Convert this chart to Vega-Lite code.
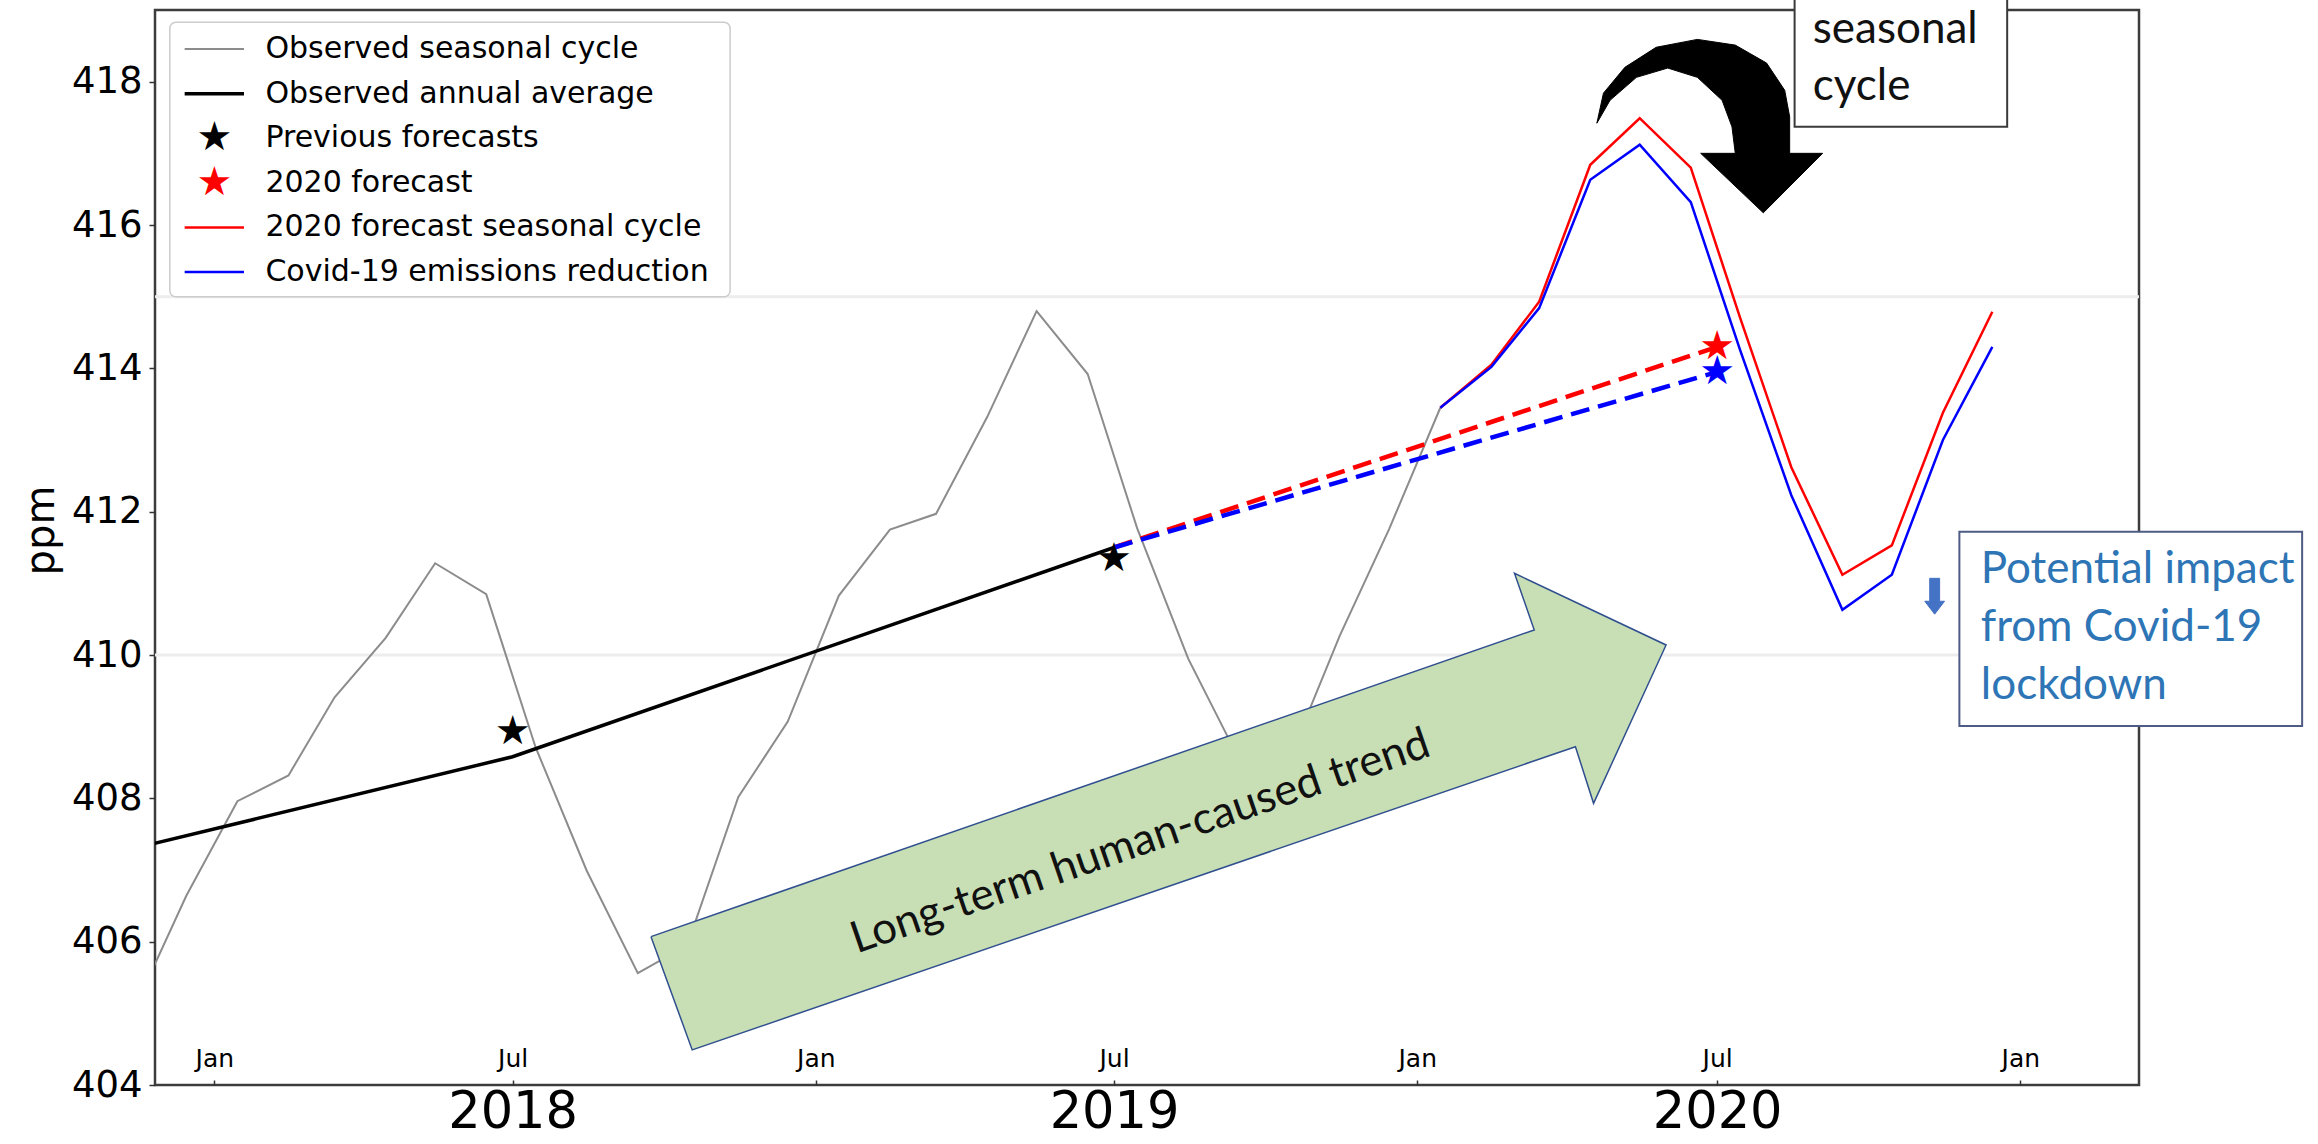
{
  "$schema": "https://vega.github.io/schema/vega-lite/v6.json",
  "width": 1984,
  "height": 1075,
  "autosize": {"type": "none"},
  "padding": {"left": 155, "top": 10, "right": 179, "bottom": 59},
  "background": "white",
  "config": {
    "view": {"stroke": "#3c3c3c", "strokeWidth": 2.5},
    "font": "DejaVu Sans",
    "axis": {"labelColor": "#000000", "titleColor": "#000000", "grid": false}
  },
  "datasets": {
    "faint": [{"value": 410}, {"value": 415}],
    "lines": [
      {"kind": "obs", "date": "2017-11-15", "value": 405.14},
      {"kind": "obs", "date": "2017-12-15", "value": 406.64},
      {"kind": "obs", "date": "2018-01-15", "value": 407.96},
      {"kind": "obs", "date": "2018-02-15", "value": 408.32},
      {"kind": "obs", "date": "2018-03-15", "value": 409.41},
      {"kind": "obs", "date": "2018-04-15", "value": 410.24},
      {"kind": "obs", "date": "2018-05-15", "value": 411.28},
      {"kind": "obs", "date": "2018-06-15", "value": 410.85},
      {"kind": "obs", "date": "2018-07-15", "value": 408.71},
      {"kind": "obs", "date": "2018-08-15", "value": 406.99},
      {"kind": "obs", "date": "2018-09-15", "value": 405.56},
      {"kind": "obs", "date": "2018-10-15", "value": 405.95},
      {"kind": "obs", "date": "2018-11-15", "value": 408.02},
      {"kind": "obs", "date": "2018-12-15", "value": 409.07},
      {"kind": "obs", "date": "2019-01-15", "value": 410.83},
      {"kind": "obs", "date": "2019-02-15", "value": 411.75},
      {"kind": "obs", "date": "2019-03-15", "value": 411.97},
      {"kind": "obs", "date": "2019-04-15", "value": 413.32},
      {"kind": "obs", "date": "2019-05-15", "value": 414.80},
      {"kind": "obs", "date": "2019-06-15", "value": 413.92},
      {"kind": "obs", "date": "2019-07-15", "value": 411.77},
      {"kind": "obs", "date": "2019-08-15", "value": 409.95},
      {"kind": "obs", "date": "2019-09-15", "value": 408.54},
      {"kind": "obs", "date": "2019-10-15", "value": 408.53},
      {"kind": "obs", "date": "2019-11-15", "value": 410.27},
      {"kind": "obs", "date": "2019-12-15", "value": 411.76},
      {"kind": "obs", "date": "2020-01-15", "value": 413.45},
      {"kind": "annual", "date": "2017-07-01", "value": 406.55},
      {"kind": "annual", "date": "2018-07-01", "value": 408.58},
      {"kind": "annual", "date": "2019-07-01", "value": 411.50},
      {"kind": "projred", "date": "2019-07-01", "value": 411.50},
      {"kind": "projred", "date": "2020-07-01", "value": 414.30},
      {"kind": "projblue", "date": "2019-07-01", "value": 411.50},
      {"kind": "projblue", "date": "2020-07-01", "value": 413.95},
      {"kind": "seasonred", "date": "2020-01-15", "value": 413.45},
      {"kind": "seasonred", "date": "2020-02-15", "value": 414.05},
      {"kind": "seasonred", "date": "2020-03-15", "value": 414.93},
      {"kind": "seasonred", "date": "2020-04-15", "value": 416.84},
      {"kind": "seasonred", "date": "2020-05-15", "value": 417.49},
      {"kind": "seasonred", "date": "2020-06-15", "value": 416.80},
      {"kind": "seasonred", "date": "2020-07-15", "value": 414.70},
      {"kind": "seasonred", "date": "2020-08-15", "value": 412.62},
      {"kind": "seasonred", "date": "2020-09-15", "value": 411.12},
      {"kind": "seasonred", "date": "2020-10-15", "value": 411.53},
      {"kind": "seasonred", "date": "2020-11-15", "value": 413.38},
      {"kind": "seasonred", "date": "2020-12-15", "value": 414.79},
      {"kind": "seasonblue", "date": "2020-01-15", "value": 413.45},
      {"kind": "seasonblue", "date": "2020-02-15", "value": 414.02},
      {"kind": "seasonblue", "date": "2020-03-15", "value": 414.84},
      {"kind": "seasonblue", "date": "2020-04-15", "value": 416.63},
      {"kind": "seasonblue", "date": "2020-05-15", "value": 417.12},
      {"kind": "seasonblue", "date": "2020-06-15", "value": 416.32},
      {"kind": "seasonblue", "date": "2020-07-15", "value": 414.25},
      {"kind": "seasonblue", "date": "2020-08-15", "value": 412.23},
      {"kind": "seasonblue", "date": "2020-09-15", "value": 410.63},
      {"kind": "seasonblue", "date": "2020-10-15", "value": 411.12},
      {"kind": "seasonblue", "date": "2020-11-15", "value": 413.00},
      {"kind": "seasonblue", "date": "2020-12-15", "value": 414.30},
      {"kind": "starblack", "date": "2018-07-01", "value": 408.93},
      {"kind": "starblack", "date": "2019-07-01", "value": 411.34},
      {"kind": "starred", "date": "2020-07-01", "value": 414.30},
      {"kind": "starblue", "date": "2020-07-01", "value": 413.95}
    ],
    "legend": [
      {"row": 0, "entry": "line", "label": "Observed seasonal cycle", "x1": "2017-12-14", "x2": "2018-01-19", "xs": "2018-01-01", "xl": "2018-02-01", "value": 418.455},
      {"row": 1, "entry": "line", "label": "Observed annual average", "x1": "2017-12-14", "x2": "2018-01-19", "xs": "2018-01-01", "xl": "2018-02-01", "value": 417.833},
      {"row": 2, "entry": "star", "label": "Previous forecasts", "x1": "2017-12-14", "x2": "2018-01-19", "xs": "2018-01-01", "xl": "2018-02-01", "value": 417.211},
      {"row": 3, "entry": "star", "label": "2020 forecast", "x1": "2017-12-14", "x2": "2018-01-19", "xs": "2018-01-01", "xl": "2018-02-01", "value": 416.588},
      {"row": 4, "entry": "line", "label": "2020 forecast seasonal cycle", "x1": "2017-12-14", "x2": "2018-01-19", "xs": "2018-01-01", "xl": "2018-02-01", "value": 415.966},
      {"row": 5, "entry": "line", "label": "Covid-19 emissions reduction", "x1": "2017-12-14", "x2": "2018-01-19", "xs": "2018-01-01", "xl": "2018-02-01", "value": 415.344}
    ],
    "shapes": [
      {"shape": "trend", "i": 0, "date": "2018-09-23", "value": 406.07},
      {"shape": "trend", "i": 1, "date": "2020-03-12", "value": 410.35},
      {"shape": "trend", "i": 2, "date": "2020-02-29", "value": 411.14},
      {"shape": "trend", "i": 3, "date": "2020-05-31", "value": 410.14},
      {"shape": "trend", "i": 4, "date": "2020-04-17", "value": 407.93},
      {"shape": "trend", "i": 5, "date": "2020-04-06", "value": 408.72},
      {"shape": "trend", "i": 6, "date": "2018-10-18", "value": 404.49},
      {"shape": "trend", "i": 7, "date": "2018-09-23", "value": 406.07},
      {"shape": "curved", "i": 0, "date": "2020-04-19", "value": 417.42},
      {"shape": "curved", "i": 1, "date": "2020-04-23", "value": 417.84},
      {"shape": "curved", "i": 2, "date": "2020-05-06", "value": 418.20},
      {"shape": "curved", "i": 3, "date": "2020-05-25", "value": 418.48},
      {"shape": "curved", "i": 4, "date": "2020-06-19", "value": 418.59},
      {"shape": "curved", "i": 5, "date": "2020-07-12", "value": 418.51},
      {"shape": "curved", "i": 6, "date": "2020-07-31", "value": 418.26},
      {"shape": "curved", "i": 7, "date": "2020-08-11", "value": 417.88},
      {"shape": "curved", "i": 8, "date": "2020-08-14", "value": 417.51},
      {"shape": "curved", "i": 9, "date": "2020-08-14", "value": 417.00},
      {"shape": "curved", "i": 10, "date": "2020-09-03", "value": 417.00},
      {"shape": "curved", "i": 11, "date": "2020-07-29", "value": 416.17},
      {"shape": "curved", "i": 12, "date": "2020-06-21", "value": 417.00},
      {"shape": "curved", "i": 13, "date": "2020-07-12", "value": 417.00},
      {"shape": "curved", "i": 14, "date": "2020-07-10", "value": 417.37},
      {"shape": "curved", "i": 15, "date": "2020-07-04", "value": 417.74},
      {"shape": "curved", "i": 16, "date": "2020-06-19", "value": 418.06},
      {"shape": "curved", "i": 17, "date": "2020-06-01", "value": 418.19},
      {"shape": "curved", "i": 18, "date": "2020-05-13", "value": 418.06},
      {"shape": "curved", "i": 19, "date": "2020-04-27", "value": 417.74},
      {"shape": "curved", "i": 20, "date": "2020-04-19", "value": 417.42},
      {"shape": "down", "i": 0, "date": "2020-11-07", "value": 411.07},
      {"shape": "down", "i": 1, "date": "2020-11-13", "value": 411.07},
      {"shape": "down", "i": 2, "date": "2020-11-13", "value": 410.75},
      {"shape": "down", "i": 3, "date": "2020-11-16", "value": 410.75},
      {"shape": "down", "i": 4, "date": "2020-11-10", "value": 410.57},
      {"shape": "down", "i": 5, "date": "2020-11-04", "value": 410.75},
      {"shape": "down", "i": 6, "date": "2020-11-07", "value": 410.75},
      {"shape": "down", "i": 7, "date": "2020-11-07", "value": 411.07}
    ],
    "boxes": [
      {"box": "covid", "x1": "2020-11-25", "x2": "2021-06-21", "y1": 411.72, "y2": 409.01},
      {"box": "seasonal", "x1": "2020-08-17", "x2": "2020-12-24", "y1": 421.0, "y2": 417.37},
      {"box": "legend", "x1": "2017-12-05", "x2": "2018-11-10", "y1": 418.83, "y2": 415.00}
    ],
    "notes": [
      {"note": "trend", "date": "2019-07-17", "value": 407.39, "text": "Long-term human-caused trend"},
      {"note": "covid", "date": "2020-12-08", "value": 411.00, "text": "Potential impact\nfrom Covid-19\nlockdown"},
      {"note": "seasonal", "date": "2020-08-28", "value": 418.54, "text": "seasonal\ncycle"}
    ]
  },
  "resolve": {"axis": {"x": "independent"}},
  "layer": [
    {
      "data": {"name": "faint"},
      "mark": {"type": "rule", "color": "#ededed", "strokeWidth": 3},
      "encoding": {
        "y": {
          "field": "value", "type": "quantitative", "title": "ppm",
          "scale": {"domain": [404, 419], "nice": false, "zero": false},
          "axis": {
            "values": [404, 406, 408, 410, 412, 414, 416, 418],
            "format": "d",
            "domain": false, "grid": false,
            "tickSize": 6, "tickColor": "#333333", "tickWidth": 1.5,
            "labelFont": "DejaVu Sans", "labelFontSize": 37, "labelPadding": 7,
            "titleFont": "DejaVu Sans", "titleFontSize": 40, "titleFontWeight": "normal", "titlePadding": 10, "titleY": 520
          }
        }
      }
    },
    {
      "data": {"name": "lines"},
      "transform": [{"filter": "datum.kind === 'obs'"}],
      "mark": {"type": "line", "strokeWidth": 2, "clip": true, "color": "#8c8c8c"},
      "encoding": {
        "x": {
          "field": "date", "type": "temporal",
          "scale": {"type": "utc", "domain": [{"year": 2017, "month": 11, "date": 26, "utc": true}, {"year": 2021, "month": 3, "date": 14, "utc": true}]},
          "axis": {
            "orient": "bottom", "title": null, "domain": false, "grid": false,
            "values": [
              {"year": 2018, "month": 1, "date": 1, "utc": true},
              {"year": 2018, "month": 7, "date": 1, "utc": true},
              {"year": 2019, "month": 1, "date": 1, "utc": true},
              {"year": 2019, "month": 7, "date": 1, "utc": true},
              {"year": 2020, "month": 1, "date": 1, "utc": true},
              {"year": 2020, "month": 7, "date": 1, "utc": true},
              {"year": 2021, "month": 1, "date": 1, "utc": true}
            ],
            "labelExpr": "utcFormat(datum.value, '%b')",
            "ticks": true, "tickSize": -5, "tickColor": "#333333", "tickWidth": 1.5,
            "labelFont": "DejaVu Sans", "labelFontSize": 25, "labelBaseline": "alphabetic", "labelPadding": -14,
            "labelFlush": false, "labelOverlap": false
          }
        },
        "y": {"field": "value", "type": "quantitative", "title": "ppm"}
      }
    },
    {
      "data": {"name": "lines"},
      "transform": [{"filter": "datum.kind === 'annual'"}],
      "mark": {"type": "line", "strokeWidth": 3.5, "clip": true, "color": "#000000"},
      "encoding": {
        "x": {
          "field": "date", "type": "temporal", "scale": {"type": "utc"},
          "axis": {
            "orient": "bottom", "title": null, "domain": false, "grid": false, "ticks": false,
            "values": [
              {"year": 2018, "month": 7, "date": 1, "utc": true},
              {"year": 2019, "month": 7, "date": 1, "utc": true},
              {"year": 2020, "month": 7, "date": 1, "utc": true}
            ],
            "labelExpr": "utcFormat(datum.value, '%Y')",
            "labelFont": "DejaVu Sans", "labelFontSize": 51, "labelBaseline": "top", "labelPadding": 2,
            "labelFlush": false, "labelOverlap": false
          }
        },
        "y": {"field": "value", "type": "quantitative", "title": "ppm"}
      }
    },
    {
      "data": {"name": "lines"},
      "transform": [{"filter": "datum.kind === 'projred'"}],
      "mark": {"type": "line", "strokeWidth": 4.5, "strokeDash": [19, 9], "color": "#ff0000"},
      "encoding": {
        "x": {"field": "date", "type": "temporal", "scale": {"type": "utc"}, "axis": null},
        "y": {"field": "value", "type": "quantitative", "title": "ppm"}
      }
    },
    {
      "data": {"name": "lines"},
      "transform": [{"filter": "datum.kind === 'projblue'"}],
      "mark": {"type": "line", "strokeWidth": 4.5, "strokeDash": [19, 9], "color": "#0000ff"},
      "encoding": {
        "x": {"field": "date", "type": "temporal", "scale": {"type": "utc"}, "axis": null},
        "y": {"field": "value", "type": "quantitative", "title": "ppm"}
      }
    },
    {
      "data": {"name": "lines"},
      "transform": [{"filter": "datum.kind === 'seasonred'"}],
      "mark": {"type": "line", "strokeWidth": 2.5, "color": "#ff0000"},
      "encoding": {
        "x": {"field": "date", "type": "temporal", "scale": {"type": "utc"}, "axis": null},
        "y": {"field": "value", "type": "quantitative", "title": "ppm"}
      }
    },
    {
      "data": {"name": "lines"},
      "transform": [{"filter": "datum.kind === 'seasonblue'"}],
      "mark": {"type": "line", "strokeWidth": 2.5, "color": "#0000ff"},
      "encoding": {
        "x": {"field": "date", "type": "temporal", "scale": {"type": "utc"}, "axis": null},
        "y": {"field": "value", "type": "quantitative", "title": "ppm"}
      }
    },
    {
      "data": {"name": "shapes"},
      "transform": [{"filter": "datum.shape === 'trend'"}],
      "mark": {"type": "line", "fill": "#c8dfb5", "stroke": "#2f4f8f", "strokeWidth": 1.5},
      "encoding": {
        "x": {"field": "date", "type": "temporal", "scale": {"type": "utc"}, "axis": null},
        "y": {"field": "value", "type": "quantitative", "title": "ppm"},
        "order": {"field": "i", "type": "quantitative"}
      }
    },
    {
      "data": {"name": "shapes"},
      "transform": [{"filter": "datum.shape === 'curved'"}],
      "mark": {"type": "line", "fill": "#000000", "stroke": "#000000", "strokeWidth": 1},
      "encoding": {
        "x": {"field": "date", "type": "temporal", "scale": {"type": "utc"}, "axis": null},
        "y": {"field": "value", "type": "quantitative", "title": "ppm"},
        "order": {"field": "i", "type": "quantitative"}
      }
    },
    {
      "data": {"name": "shapes"},
      "transform": [{"filter": "datum.shape === 'down'"}],
      "mark": {"type": "line", "fill": "#4472c4", "stroke": "#4472c4", "strokeWidth": 1},
      "encoding": {
        "x": {"field": "date", "type": "temporal", "scale": {"type": "utc"}, "axis": null},
        "y": {"field": "value", "type": "quantitative", "title": "ppm"},
        "order": {"field": "i", "type": "quantitative"}
      }
    },
    {
      "data": {"name": "boxes"},
      "transform": [{"filter": "datum.box === 'covid'"}],
      "mark": {"type": "rect", "fill": "#ffffff", "stroke": "#4d5b85", "strokeWidth": 2},
      "encoding": {
        "x": {"field": "x1", "type": "temporal", "scale": {"type": "utc"}, "axis": null},
        "x2": {"field": "x2"},
        "y": {"field": "y1", "type": "quantitative", "title": "ppm"},
        "y2": {"field": "y2"}
      }
    },
    {
      "data": {"name": "boxes"},
      "transform": [{"filter": "datum.box === 'seasonal'"}],
      "mark": {"type": "rect", "fill": "#ffffff", "stroke": "#3a3a3a", "strokeWidth": 2},
      "encoding": {
        "x": {"field": "x1", "type": "temporal", "scale": {"type": "utc"}, "axis": null},
        "x2": {"field": "x2"},
        "y": {"field": "y1", "type": "quantitative", "title": "ppm"},
        "y2": {"field": "y2"}
      }
    },
    {
      "data": {"name": "notes"},
      "transform": [{"filter": "datum.note === 'trend'"}],
      "mark": {"type": "text", "font": "Lato", "fontSize": 44, "angle": -19, "align": "center", "baseline": "middle", "color": "#111111"},
      "encoding": {
        "x": {"field": "date", "type": "temporal", "scale": {"type": "utc"}, "axis": null},
        "y": {"field": "value", "type": "quantitative", "title": "ppm"},
        "text": {"field": "text", "type": "nominal"}
      }
    },
    {
      "data": {"name": "notes"},
      "transform": [{"filter": "datum.note === 'covid'"}],
      "mark": {"type": "text", "font": "Lato", "fontSize": 44, "align": "left", "baseline": "alphabetic", "color": "#2e75b6", "lineBreak": "\n", "lineHeight": 58},
      "encoding": {
        "x": {"field": "date", "type": "temporal", "scale": {"type": "utc"}, "axis": null},
        "y": {"field": "value", "type": "quantitative", "title": "ppm"},
        "text": {"field": "text", "type": "nominal"}
      }
    },
    {
      "data": {"name": "notes"},
      "transform": [{"filter": "datum.note === 'seasonal'"}],
      "mark": {"type": "text", "font": "Lato", "fontSize": 44, "align": "left", "baseline": "alphabetic", "color": "#111111", "lineBreak": "\n", "lineHeight": 57},
      "encoding": {
        "x": {"field": "date", "type": "temporal", "scale": {"type": "utc"}, "axis": null},
        "y": {"field": "value", "type": "quantitative", "title": "ppm"},
        "text": {"field": "text", "type": "nominal"}
      }
    },
    {
      "data": {"name": "lines"},
      "transform": [{"filter": "datum.kind === 'starblack'"}],
      "mark": {"type": "text", "font": "DejaVu Sans", "fontSize": 40, "align": "center", "baseline": "middle", "color": "#000000"},
      "encoding": {
        "x": {"field": "date", "type": "temporal", "scale": {"type": "utc"}, "axis": null},
        "y": {"field": "value", "type": "quantitative", "title": "ppm"},
        "text": {"value": "★"}
      }
    },
    {
      "data": {"name": "lines"},
      "transform": [{"filter": "datum.kind === 'starred'"}],
      "mark": {"type": "text", "font": "DejaVu Sans", "fontSize": 40, "align": "center", "baseline": "middle", "color": "#ff0000"},
      "encoding": {
        "x": {"field": "date", "type": "temporal", "scale": {"type": "utc"}, "axis": null},
        "y": {"field": "value", "type": "quantitative", "title": "ppm"},
        "text": {"value": "★"}
      }
    },
    {
      "data": {"name": "lines"},
      "transform": [{"filter": "datum.kind === 'starblue'"}],
      "mark": {"type": "text", "font": "DejaVu Sans", "fontSize": 40, "align": "center", "baseline": "middle", "color": "#0000ff"},
      "encoding": {
        "x": {"field": "date", "type": "temporal", "scale": {"type": "utc"}, "axis": null},
        "y": {"field": "value", "type": "quantitative", "title": "ppm"},
        "text": {"value": "★"}
      }
    },
    {
      "data": {"name": "boxes"},
      "transform": [{"filter": "datum.box === 'legend'"}],
      "mark": {"type": "rect", "fill": "#ffffff", "stroke": "#cccccc", "strokeWidth": 1.5, "cornerRadius": 6},
      "encoding": {
        "x": {"field": "x1", "type": "temporal", "scale": {"type": "utc"}, "axis": null},
        "x2": {"field": "x2"},
        "y": {"field": "y1", "type": "quantitative", "title": "ppm"},
        "y2": {"field": "y2"}
      }
    },
    {
      "data": {"name": "legend"},
      "transform": [{"filter": "datum.row === 0"}],
      "mark": {"type": "rule", "color": "#8c8c8c", "strokeWidth": 2},
      "encoding": {
        "x": {"field": "x1", "type": "temporal", "scale": {"type": "utc"}, "axis": null},
        "x2": {"field": "x2"},
        "y": {"field": "value", "type": "quantitative", "title": "ppm"}
      }
    },
    {
      "data": {"name": "legend"},
      "transform": [{"filter": "datum.row === 1"}],
      "mark": {"type": "rule", "color": "#000000", "strokeWidth": 3.5},
      "encoding": {
        "x": {"field": "x1", "type": "temporal", "scale": {"type": "utc"}, "axis": null},
        "x2": {"field": "x2"},
        "y": {"field": "value", "type": "quantitative", "title": "ppm"}
      }
    },
    {
      "data": {"name": "legend"},
      "transform": [{"filter": "datum.row === 4"}],
      "mark": {"type": "rule", "color": "#ff0000", "strokeWidth": 2.5},
      "encoding": {
        "x": {"field": "x1", "type": "temporal", "scale": {"type": "utc"}, "axis": null},
        "x2": {"field": "x2"},
        "y": {"field": "value", "type": "quantitative", "title": "ppm"}
      }
    },
    {
      "data": {"name": "legend"},
      "transform": [{"filter": "datum.row === 5"}],
      "mark": {"type": "rule", "color": "#0000ff", "strokeWidth": 2.5},
      "encoding": {
        "x": {"field": "x1", "type": "temporal", "scale": {"type": "utc"}, "axis": null},
        "x2": {"field": "x2"},
        "y": {"field": "value", "type": "quantitative", "title": "ppm"}
      }
    },
    {
      "data": {"name": "legend"},
      "transform": [{"filter": "datum.row === 2"}],
      "mark": {"type": "text", "font": "DejaVu Sans", "fontSize": 40, "align": "center", "baseline": "middle", "color": "#000000"},
      "encoding": {
        "x": {"field": "xs", "type": "temporal", "scale": {"type": "utc"}, "axis": null},
        "y": {"field": "value", "type": "quantitative", "title": "ppm"},
        "text": {"value": "★"}
      }
    },
    {
      "data": {"name": "legend"},
      "transform": [{"filter": "datum.row === 3"}],
      "mark": {"type": "text", "font": "DejaVu Sans", "fontSize": 40, "align": "center", "baseline": "middle", "color": "#ff0000"},
      "encoding": {
        "x": {"field": "xs", "type": "temporal", "scale": {"type": "utc"}, "axis": null},
        "y": {"field": "value", "type": "quantitative", "title": "ppm"},
        "text": {"value": "★"}
      }
    },
    {
      "data": {"name": "legend"},
      "mark": {"type": "text", "font": "DejaVu Sans", "fontSize": 30, "align": "left", "baseline": "middle", "color": "#000000"},
      "encoding": {
        "x": {"field": "xl", "type": "temporal", "scale": {"type": "utc"}, "axis": null},
        "y": {"field": "value", "type": "quantitative", "title": "ppm"},
        "text": {"field": "label", "type": "nominal"}
      }
    }
  ]
}
